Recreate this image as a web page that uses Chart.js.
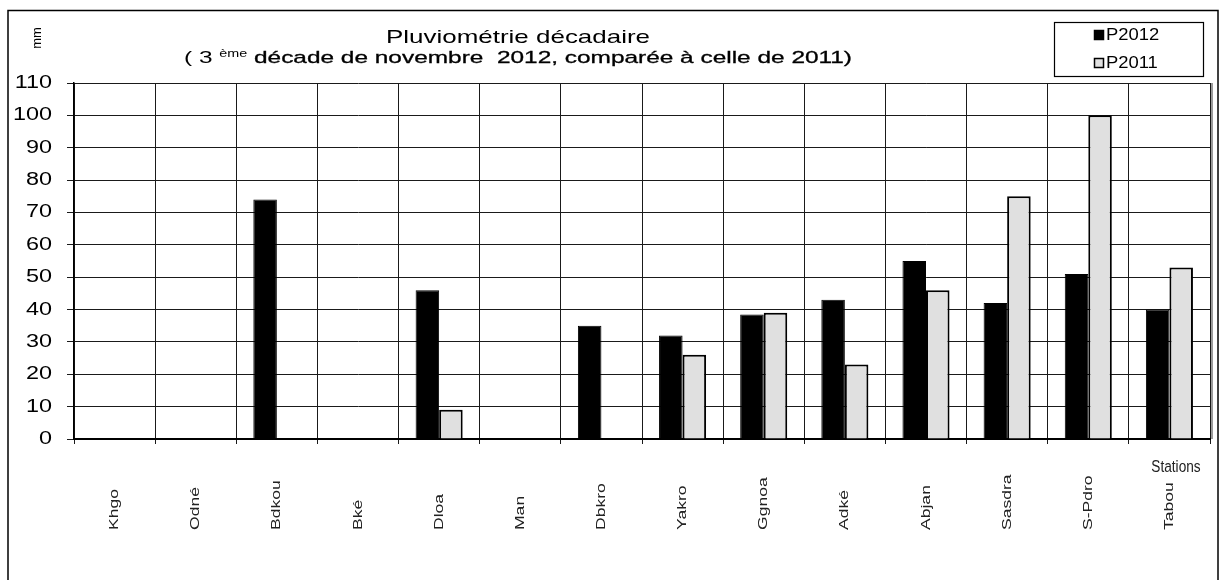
<!DOCTYPE html>
<html>
<head>
<meta charset="utf-8">
<script src="https://cdn.jsdelivr.net/npm/chart.js@4.4.1/dist/chart.umd.min.js"></script>
<style>
  html, body { margin: 0; padding: 0; background: #fff; }
  #wrap { width: 1232px; height: 580px; }
</style>
</head>
<body>
<div id="wrap"><canvas id="rainChart" width="1232" height="580"></canvas></div>
<script>
// stations (abbreviated) and rainfall in mm
const stations = ['Khgo', 'Odné', 'Bdkou', 'Bké', 'Dloa', 'Man', 'Dbkro', 'Yakro', 'Ggnoa', 'Adké', 'Abjan', 'Sasdra', 'S-Pdro', 'Tabou'];
const p2012 = [null, null, 74, null, 46, null, 35, 32, 38.5, 43, 55, 42, 51, 40];
const p2011 = [null, null, null, null, 9, null, null, 26, 39, 23, 46, 75, 100, 53];
const seriesNames = ['P2012', 'P2011'];
const yMin = 0, yMax = 110, yStep = 10;

const FONT = "'Liberation Sans', Arial, sans-serif";

// excel-ish stretched text
function stretchText(ctx, txt, x, y, font, sx, sy, align, baseline, heavy) {
    ctx.save();
    ctx.font = font;
    ctx.textAlign = align || 'left';
    ctx.textBaseline = baseline || 'alphabetic';
    ctx.translate(x, y);
    ctx.scale(sx, sy);
    ctx.fillText(txt, 0, 0);
    if (heavy) {
        ctx.lineWidth = heavy;
        ctx.strokeStyle = ctx.fillStyle;
        ctx.strokeText(txt, 0, 0);
    }
    ctx.restore();
}

const decorPlugin = {
    id: 'decor',
    afterDraw(chart) {
        const ctx = chart.ctx;
        const area = chart.chartArea;
        const xs = chart.scales.x;
        const ys = chart.scales.y;
        ctx.save();
        ctx.fillStyle = '#000';

        // outer frame
        ctx.strokeStyle = '#000';
        ctx.lineWidth = 1.5;
        ctx.strokeRect(8, 10.5, 1210, 620);

        // grey edge on the right of the plot
        ctx.strokeStyle = '#9a9a9a';
        ctx.lineWidth = 2;
        ctx.beginPath();
        ctx.moveTo(area.right + 2, area.top);
        ctx.lineTo(area.right + 2, area.bottom);
        ctx.stroke();

        // title
        const cx = 518;
        ctx.font = '19px ' + FONT;
        let w1 = ctx.measureText('Pluviométrie décadaire').width;
        let s1 = 264 / w1;
        stretchText(ctx, 'Pluviométrie décadaire', cx, 43, '19px ' + FONT, s1, 1, 'center');

        const partA = '( 3 ';
        const partB = 'ème';
        const partC = ' décade de novembre  2012, comparée à celle de 2011)';
        const fA = '17px ' + FONT, fB = '10px ' + FONT, fC = '17px ' + FONT;
        ctx.font = fA; const wA = ctx.measureText(partA).width;
        ctx.font = fB; const wB = ctx.measureText(partB).width;
        ctx.font = fC; const wC = ctx.measureText(partC).width;
        const s2 = 668 / (wA + wB + wC);
        let x0 = cx - (wA + wB + wC) * s2 / 2;
        stretchText(ctx, partA, x0, 63, fA, s2, 1, 'left');
        x0 += wA * s2;
        stretchText(ctx, partB, x0, 57, fB, s2, 1, 'left');
        x0 += wB * s2;
        stretchText(ctx, partC, x0, 63, fC, s2, 1, 'left', 'alphabetic', 0.3);

        // unit label
        ctx.save();
        ctx.translate(37, 38);
        ctx.rotate(-Math.PI / 2);
        ctx.font = '13px ' + FONT;
        ctx.textAlign = 'center';
        ctx.textBaseline = 'middle';
        ctx.fillText('mm', 0, 0);
        ctx.restore();

        // y tick labels
        ys.ticks.forEach(t => {
            const py = ys.getPixelForValue(t.value);
            stretchText(ctx, String(t.value), 52, py, '18px ' + FONT, 1.3, 1, 'right', 'middle');
        });

        // x labels, rotated, reading upward
        ctx.fillStyle = '#222';
        stations.forEach((name, i) => {
            const px = xs.getPixelForValue(i);
            ctx.save();
            ctx.translate(px, 530);
            ctx.rotate(-Math.PI / 2);
            ctx.scale(1.35, 1);
            ctx.font = '13px ' + FONT;
            ctx.textAlign = 'left';
            ctx.textBaseline = 'middle';
            ctx.fillText(name, 0, 0);
            ctx.restore();
        });
        stretchText(ctx, 'Stations', 1176, 467, '13px ' + FONT, 1.05, 1.3, 'center', 'middle');

        // legend box
        ctx.fillStyle = '#fff';
        ctx.fillRect(1054, 22, 149, 54);
        ctx.strokeStyle = '#000';
        ctx.lineWidth = 1.2;
        ctx.strokeRect(1054.5, 22.5, 149, 54);
        const rows = [35, 63];
        chart.data.datasets.forEach((ds, i) => {
            const ry = rows[i];
            ctx.fillStyle = ds.backgroundColor;
            ctx.fillRect(1094, ry - 5, 10, 10);
            ctx.strokeStyle = '#000';
            ctx.lineWidth = 1.5;
            ctx.strokeRect(1094.5, ry - 4.5, 9, 9);
            ctx.fillStyle = '#000';
            stretchText(ctx, ds.label, 1106, ry + 1, '16px ' + FONT, 1.15, 1, 'left', 'middle');
        });

        ctx.restore();
    }
};

new Chart(
    document.getElementById('rainChart'),
    {
        type: 'bar',
        data: {
            labels: stations,
            datasets: [
                {
                    label: seriesNames[0],
                    data: p2012,
                    backgroundColor: '#000000',
                    borderColor: '#000000',
                    borderWidth: 1,
                },
                {
                    label: seriesNames[1],
                    data: p2011,
                    backgroundColor: '#e0e0e0',
                    borderColor: '#000000',
                    borderWidth: 2,
                }
            ]
        },
        options: {
            responsive: false,
            animation: false,
            events: [],
            layout: { padding: { top: 83, right: 22, bottom: 0, left: 0 } },
            datasets: { bar: { categoryPercentage: 0.58, barPercentage: 1.0 } },
            plugins: {
                legend: { display: false },
                title: { display: false },
                tooltip: { enabled: false }
            },
            scales: {
                x: {
                    grid: { color: '#1a1a1a', lineWidth: 1, tickLength: 5, offset: true },
                    border: { color: '#000', width: 2 },
                    ticks: { display: false, autoSkip: false },
                    afterFit: (scale) => { scale.height = 580 - 439; }
                },
                y: {
                    min: yMin,
                    max: yMax,
                    grid: { color: '#1a1a1a', lineWidth: 1, tickLength: 7 },
                    border: { color: '#000', width: 1.5 },
                    ticks: { stepSize: yStep, display: false },
                    afterFit: (scale) => { scale.width = 74; }
                }
            }
        },
        plugins: [decorPlugin]
    }
);
</script>
</body>
</html>
